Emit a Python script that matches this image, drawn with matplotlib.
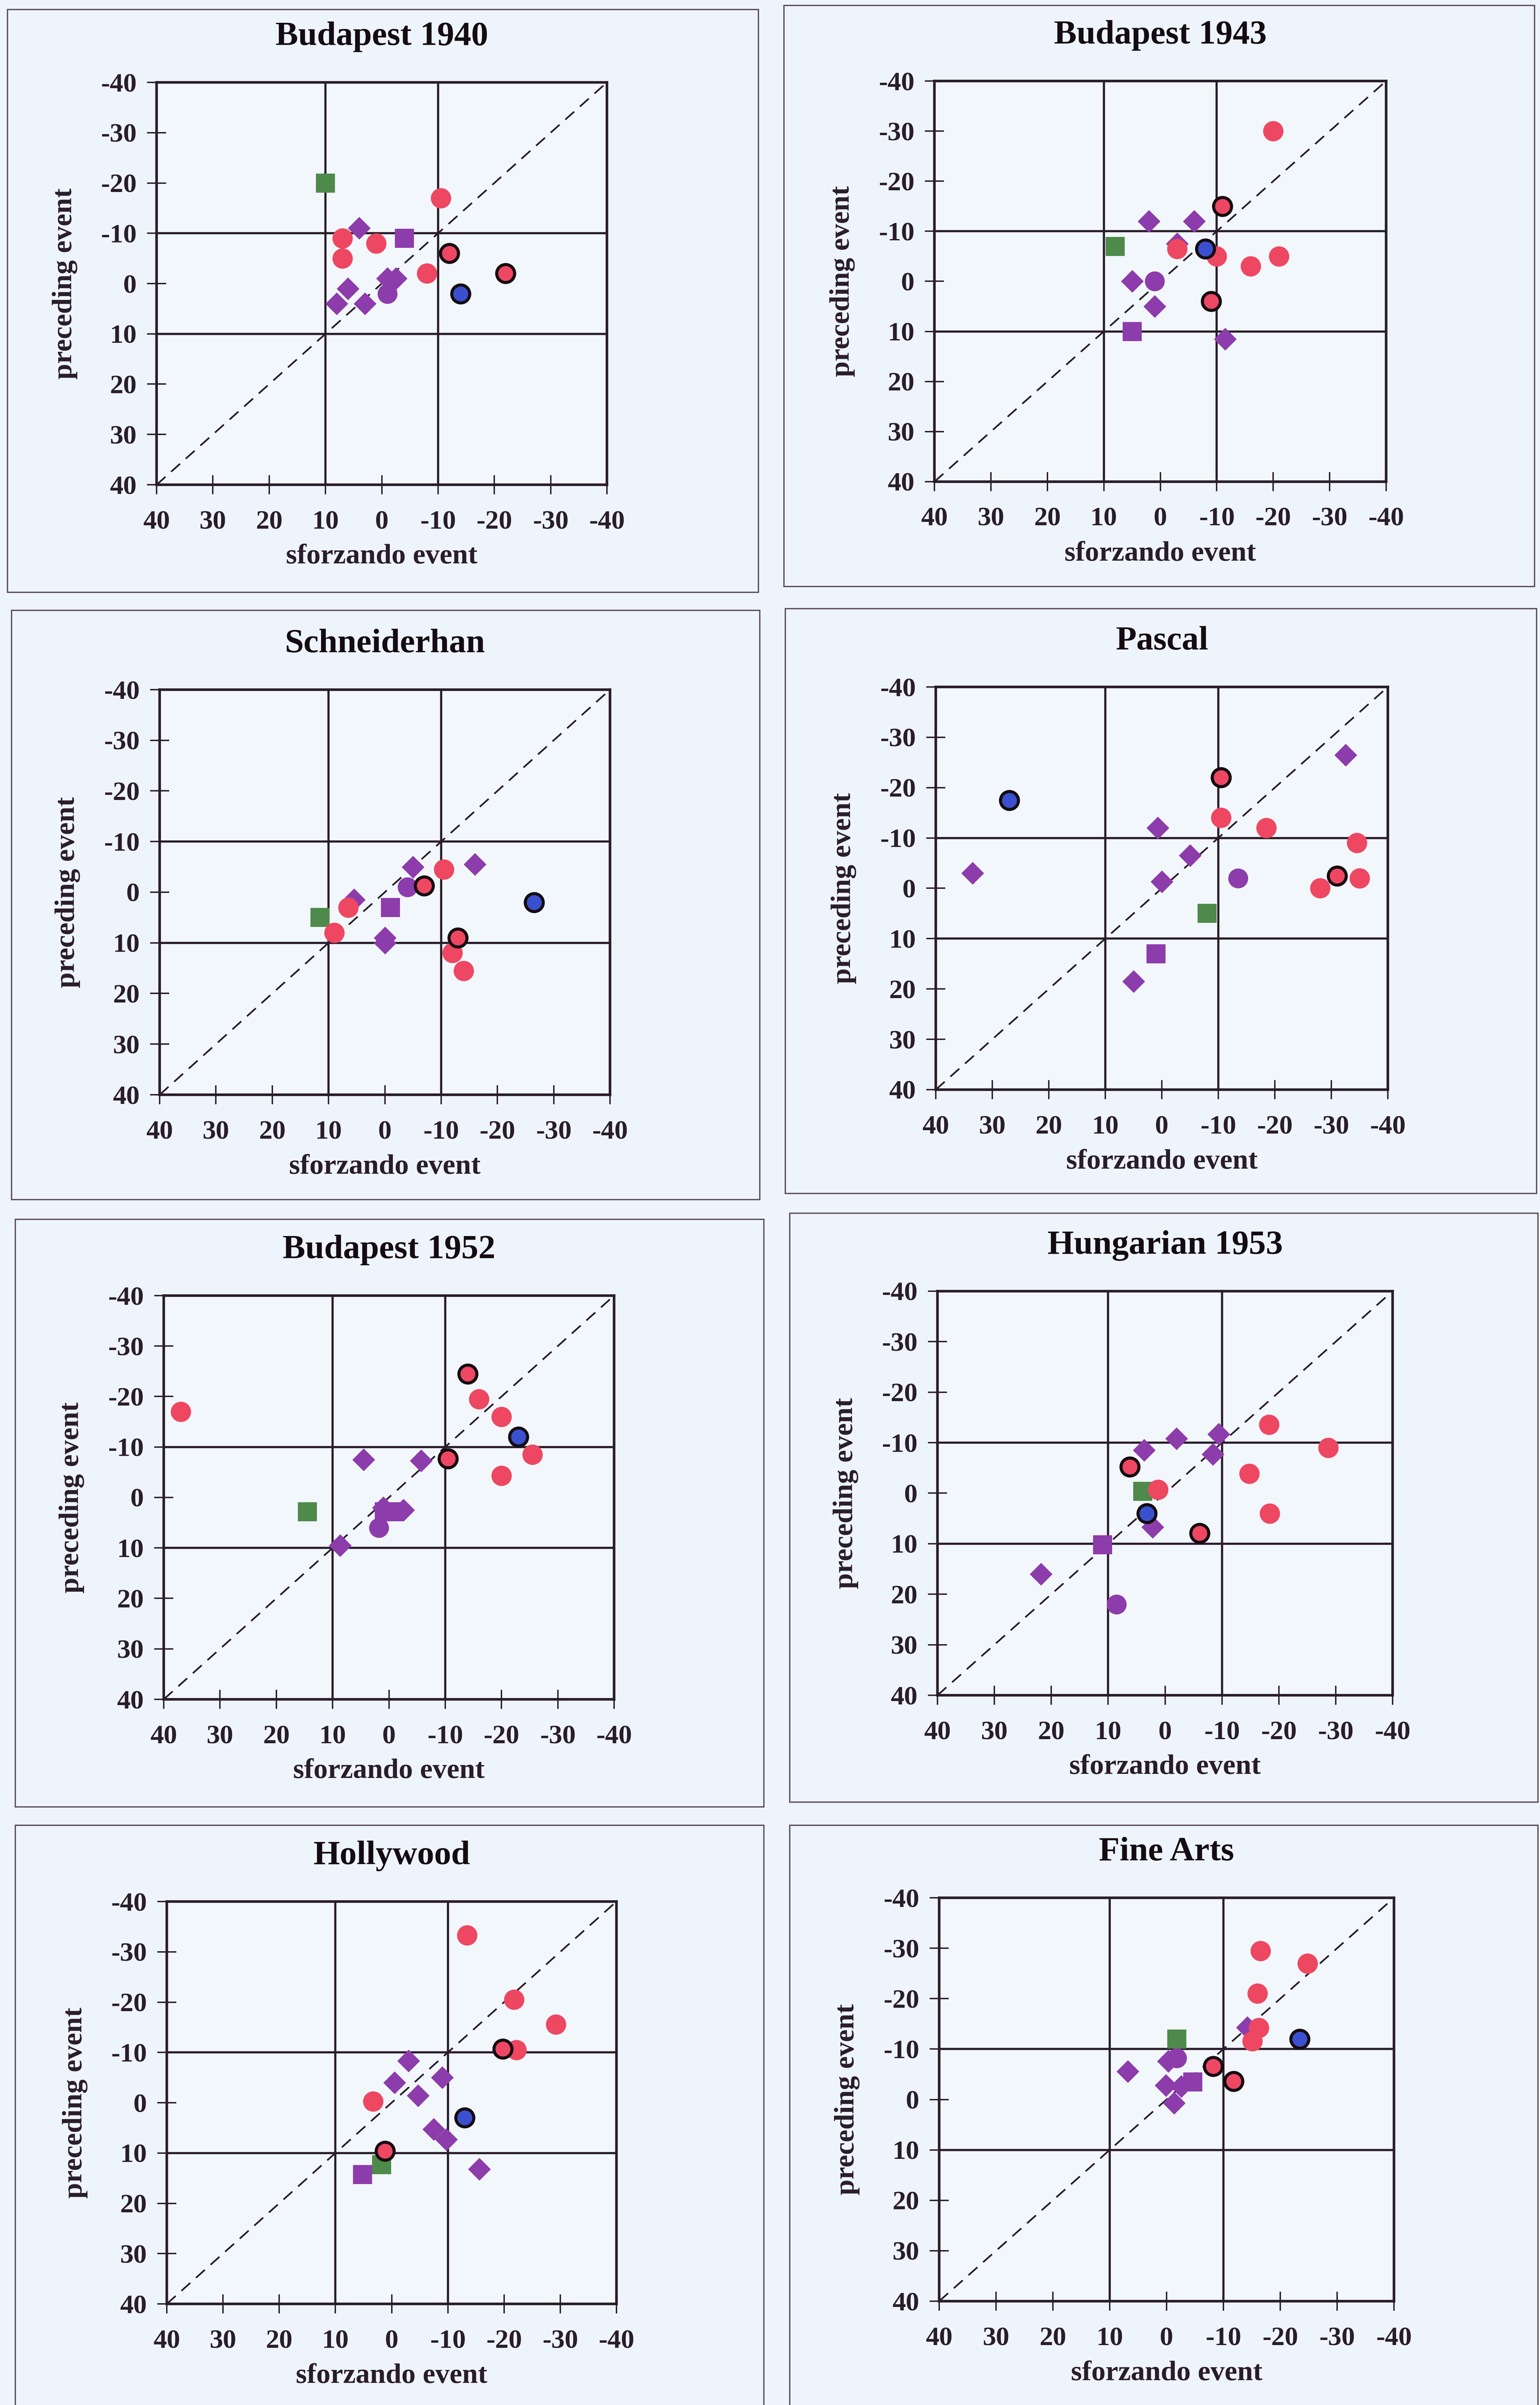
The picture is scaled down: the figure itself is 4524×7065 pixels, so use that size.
import matplotlib
matplotlib.use("Agg")
import matplotlib.pyplot as plt
from matplotlib.patches import Rectangle

W, H = 4524, 7065
DPI = 100

plt.rcParams["font.family"] = ["Liberation Serif", "DejaVu Serif"]
plt.rcParams["font.weight"] = "bold"

TITLES = ["Budapest 1940", "Budapest 1943", "Schneiderhan", "Pascal",
          "Budapest 1952", "Hungarian 1953", "Hollywood", "Fine Arts"]
TICKS = [40, 30, 20, 10, 0, -10, -20, -30, -40]
X_LABEL = "sforzando event"
Y_LABEL = "preceding event"

# One list of (sforzando, preceding) pairs per quartet, in TITLES order.
RED_PLAIN = [
    [(-10.5, -17), (7, -9), (1, -8), (7, -5), (-8, -2)],
    [(-20, -30), (-3, -6.5), (-10, -5), (-21, -5), (-16, -3)],
    [(-10.5, -4.5), (6.5, 3), (9, 8), (-12, 12), (-14, 15.5)],
    [(-10.5, -14), (-18.5, -12), (-34.5, -9), (-35, -2), (-28, 0)],
    [(37, -17), (-16, -19.5), (-20, -16), (-25.5, -8.5), (-20, -4.3)],
    [(-18.3, -13.6), (-28.7, -9), (-14.8, -3.9), (1.2, -0.7), (-18.4, 4)],
    [(-13.4, -33.3), (-21.8, -20.5), (-29.2, -15.6), (-22.2, -10.5), (3.3, -0.3)],
    [(-16.5, -29.5), (-24.8, -27), (-16, -21), (-16.2, -14.2), (-15.1, -11.6)],
]
RED_RING = [
    [(-12, -6), (-22, -2)],
    [(-11, -15), (-9, 4)],
    [(-7, -1.3), (-13, 9)],
    [(-10.5, -22), (-31, -2.5)],
    [(-14, -24.5), (-10.5, -7.7)],
    [(6.2, -5.2), (-6.1, 7.9)],
    [(-19.8, -10.7), (1.2, 9.6)],
    [(-8.2, -6.6), (-11.8, -3.6)],
]
BLUE_RING = [
    [(-14, 2)],
    [(-8, -6.5)],
    [(-26.5, 2)],
    [(27, -17.5)],
    [(-23, -12)],
    [(3.2, 4)],
    [(-13, 3)],
    [(-23.4, -12)],
]
PURPLE_DIAMOND = [
    [(4, -11), (-1, -1), (-2.5, -1), (6, 1), (8, 4), (3, 4)],
    [(2, -12), (-6, -12), (-3, -7.5), (5, 0), (1, 5), (-11.5, 11.5)],
    [(-5, -5), (-16, -5.5), (5.5, 1.5), (0, 9), (0, 10)],
    [(-32.5, -26.5), (0.7, -12), (-5, -6.5), (33.5, -3), (0, -1.3), (5, 18.5)],
    [(4.5, -7.5), (-5.7, -7.3), (1, 2), (-2.6, 2.5), (8.7, 9.5)],
    [(-2, -10.8), (-9.4, -11.7), (3.7, -8.5), (-8.4, -7.7), (2.2, 6.7), (21.8, 16)],
    [(-3, -8.3), (-9, -5), (-0.5, -4), (-4.7, -1.4), (-7.5, 5.3), (-9.7, 7.3),
     (-15.6, 13.2)],
    [(-14.2, -14.3), (-0.3, -7.6), (6.8, -5.6), (0.1, -2.8), (-2.6, -2.6),
     (-1.3, 0.7)],
]
PURPLE_CIRCLE = [
    [(-1, 2)],
    [(1, 0)],
    [(-4, -1)],
    [(-13.5, -2)],
    [(1.8, 6)],
    [(8.5, 22)],
    [],
    [(-1.8, -8.2)],
]
PURPLE_SQUARE = [
    [(-4, -9)],
    [(5, 10)],
    [(-1, 3)],
    [(1, 13)],
    [(0.8, 2.8), (-0.8, 2.8)],
    [(11, 10.2)],
    [(5.2, 14.3)],
    [(-4.6, -3.5)],
]
GREEN_SQUARE = [
    [(10, -20)],
    [(8, -7)],
    [(11.5, 5)],
    [(-8, 5)],
    [(14.5, 2.8)],
    [(3.9, -0.4)],
    [(1.8, 12.3)],
    [(-1.8, -12)],
]

# Page layout in pixels: plot areas and the frames drawn round each chart.
PLOT_BOXES = [
    (460, 242, 1783, 1424), (2745, 238, 4072, 1415),
    (469, 2026, 1792, 3216), (2749, 2018, 4077, 3201),
    (481, 3806, 1804, 4992), (2754, 3793, 4091, 4980),
    (490, 5586, 1811, 6768), (2759, 5575, 4095, 6760),
]
FRAME_BOXES = [
    (22, 28, 2228, 1740), (2303, 16, 4508, 1723),
    (34, 1793, 2232, 3524), (2307, 1788, 4514, 3506),
    (45, 3582, 2244, 5308), (2320, 3564, 4518, 5294),
    (45, 5362, 2244, 7120), (2320, 5362, 4518, 7120),
]

BG = "#eef4fb"
INK = "#2a1d2b"
RED = "#ee4762"
BLUE = "#3b50cf"
PURPLE = "#8d3cab"
GREEN = "#4e8a4b"

fig = plt.figure(figsize=(W / DPI, H / DPI), dpi=DPI, facecolor=BG)

for fx0, fy0, fx1, fy1 in FRAME_BOXES:
    fig.patches.append(Rectangle((fx0 / W, 1 - fy1 / H), (fx1 - fx0) / W,
                                 (fy1 - fy0) / H, transform=fig.transFigure,
                                 fill=False, edgecolor="#5e4e60", linewidth=2.8))


def xy(points):
    return [p[0] for p in points], [p[1] for p in points]


for i, title in enumerate(TITLES):
    x0, y0, x1, y1 = PLOT_BOXES[i]
    wpx, hpx = x1 - x0, y1 - y0
    ax = fig.add_axes([x0 / W, 1 - y1 / H, wpx / W, hpx / H])
    ax.set_facecolor("#f2f7fc")
    ax.set_xlim(40, -40)
    ax.set_ylim(40, -40)

    for side in ax.spines.values():
        side.set_linewidth(5.5)
        side.set_color(INK)

    ax.set_xticks(TICKS)
    ax.set_xticklabels([str(t) for t in TICKS])
    ax.set_yticks(TICKS)
    ax.set_yticklabels([str(t) for t in TICKS])
    ax.tick_params(axis="both", direction="inout", length=40, width=3.0,
                   color=INK, labelsize=57, labelcolor=INK)
    ax.tick_params(axis="x", pad=34)
    ax.tick_params(axis="y", pad=22)

    for v in (10, -10):
        ax.axvline(v, color=INK, linewidth=4.6, zorder=1)
        ax.axhline(v, color=INK, linewidth=4.6, zorder=1)
    ax.plot([40, -40], [40, -40], color=INK, linewidth=3.6,
            linestyle=(0, (7, 4.5)), zorder=1.5)

    gx, gy = xy(GREEN_SQUARE[i])
    ax.scatter(gx, gy, marker="s", s=40 ** 2, color=GREEN, linewidths=0, zorder=3)
    sx, sy = xy(PURPLE_SQUARE[i])
    ax.scatter(sx, sy, marker="s", s=40 ** 2, color=PURPLE, linewidths=0, zorder=3)
    dx, dy = xy(PURPLE_DIAMOND[i])
    ax.scatter(dx, dy, marker="D", s=34 ** 2, color=PURPLE, linewidths=0, zorder=3)
    cx, cy = xy(PURPLE_CIRCLE[i])
    ax.scatter(cx, cy, marker="o", s=42 ** 2, color=PURPLE, linewidths=0, zorder=3)
    rx, ry = xy(RED_PLAIN[i])
    ax.scatter(rx, ry, marker="o", s=43 ** 2, color=RED, linewidths=0, zorder=4)
    bx, by = xy(BLUE_RING[i])
    ax.scatter(bx, by, marker="o", s=38 ** 2, color=BLUE, edgecolors="#150c12",
               linewidths=6.5, zorder=5)
    ox, oy = xy(RED_RING[i])
    ax.scatter(ox, oy, marker="o", s=38 ** 2, color=RED, edgecolors="#150c12",
               linewidths=6.5, zorder=5)

    ax.text(0.5, 1 + 134 / hpx, title, transform=ax.transAxes, ha="center",
            va="center", fontsize=72, fontweight="bold", color="#140c12")

    ax.set_xlabel(X_LABEL, fontsize=60, fontweight="bold", color=INK)
    ax.xaxis.label.set_verticalalignment("center")
    ax.xaxis.set_label_coords(0.5, -212 / hpx)
    ax.set_ylabel(Y_LABEL, fontsize=60, fontweight="bold", color=INK)
    ax.yaxis.label.set_verticalalignment("center")
    ax.yaxis.set_label_coords(-270 / wpx, 0.5)

fig.savefig("out.png", dpi=DPI, facecolor=BG)
